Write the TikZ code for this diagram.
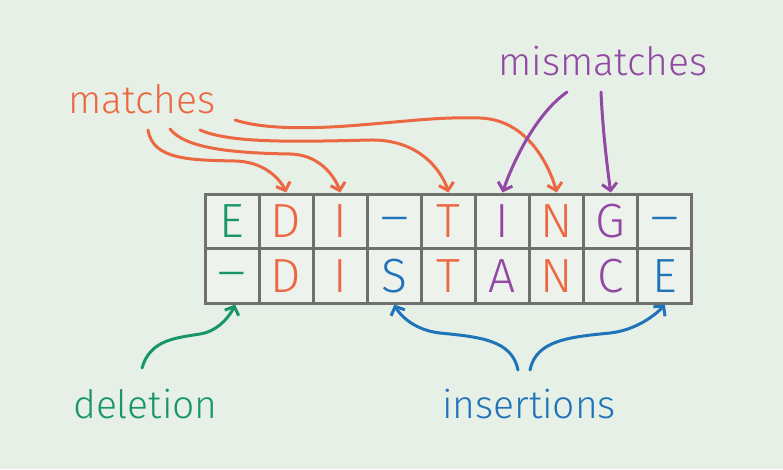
\documentclass[tikz,border=0pt]{standalone}
\usepackage{fontspec}
\usepackage{graphicx}
\setmainfont{Fira Sans Light}
\usetikzlibrary{arrows.meta}
\definecolor{bgc}{RGB}{230,240,230}
\definecolor{cellc}{RGB}{237,242,237}
\definecolor{gridc}{RGB}{112,112,112}
\definecolor{orc}{RGB}{236,104,66}
\definecolor{puc}{RGB}{146,72,164}
\definecolor{grc}{RGB}{25,150,105}
\definecolor{blc}{RGB}{30,115,185}
\newcommand{\gap}{\raisebox{4pt}{\scalebox{1.15}[1]{–}}}
\tikzset{
  cell/.style={draw=gridc, fill=cellc, line width=3pt, minimum width=54.1pt, minimum height=54.5pt,
    inner sep=0pt, font=\fontsize{48}{48}\selectfont, text height=33pt, text depth=0pt},
  lbl/.style={anchor=base west, inner sep=0pt, font=\fontsize{39}{39}\selectfont},
  arr/.style={line width=3pt, line cap=round, -{Straight Barb[length=7pt,width=15pt,line width=3pt]}}
}
\begin{document}
\begin{tikzpicture}[x=1pt,y=-1pt]
\fill[bgc] (0,0) rectangle (783,469);
\useasboundingbox (0,0) rectangle (783,469);
% grid
\foreach \i/\t/\c in {0/E/grc,1/D/orc,2/I/orc,3/\gap/blc,4/T/orc,5/I/puc,6/N/orc,7/G/puc,8/\gap/blc}{
  \node[cell, text=\c] (e\i) at (232.05+54.1*\i, 221.25) {\t};
}
\foreach \i/\t/\c in {0/\gap/grc,1/D/orc,2/I/orc,3/S/blc,4/T/orc,5/A/puc,6/N/orc,7/C/puc,8/E/blc}{
  \node[cell, text=\c] (d\i) at (232.05+54.1*\i, 275.75) {\t};
}
% labels
\node[lbl, text=orc] (matches) at (68,113) {matches};
\node[lbl, text=puc] (mismatches) at (498,75) {mismatches};
\node[lbl, text=grc] (deletion) at (73,418) {deletion};
\node[lbl, text=blc] (insertions) at (442,418) {insertions};
% arrow starts
\coordinate (m1) at (148,130);
\coordinate (m2) at (170,129);
\coordinate (m3) at (200,130);
\coordinate (m4) at (235,120);
\coordinate (p1) at (567,92);
\coordinate (p2) at (601,92);
\coordinate (g1) at (142,368);
\coordinate (b1) at (518,370);
\coordinate (b2) at (530,370);
% matches
\draw[arr, orc] (m1) .. controls (153,160) and (190,160) .. (235,161) .. controls (275,162) and (e1.north) .. (e1.north);
\draw[arr, orc] (m2) .. controls (185,148) and (230,153) .. (290,154) .. controls (330,155) and (e2.north) .. (e2.north);
\draw[arr, orc] (m3) .. controls (230,143) and (290,142) .. (370,140) .. controls (435,139) and (e4.north) .. (e4.north);
\draw[arr, orc] (m4) .. controls (260,128) and (300,130) .. (360,125) .. controls (420,120) and (440,117) .. (480,118) .. controls (540,120) and (e6.north) .. (e6.north);
% mismatches
\draw[arr, puc] (p1) .. controls (525,122) and (e5.north) .. (e5.north);
\draw[arr, puc] (p2) .. controls (603,140) and (e7.north) .. (e7.north);
% deletion
\draw[arr, grc] (g1) .. controls (150,340) and (175,338) .. (200,334) .. controls (225,330) and ([xshift=3pt]d0.south) .. ([xshift=3pt]d0.south);
% insertions
\draw[arr, blc] (b1) .. controls (512,340) and (480,337) .. (440,333) .. controls (405,329) and (d3.south) .. (d3.south);
\draw[arr, blc] (b2) .. controls (536,340) and (570,337) .. (610,333) .. controls (645,329) and (d8.south) .. (d8.south);
\end{tikzpicture}
\end{document}
